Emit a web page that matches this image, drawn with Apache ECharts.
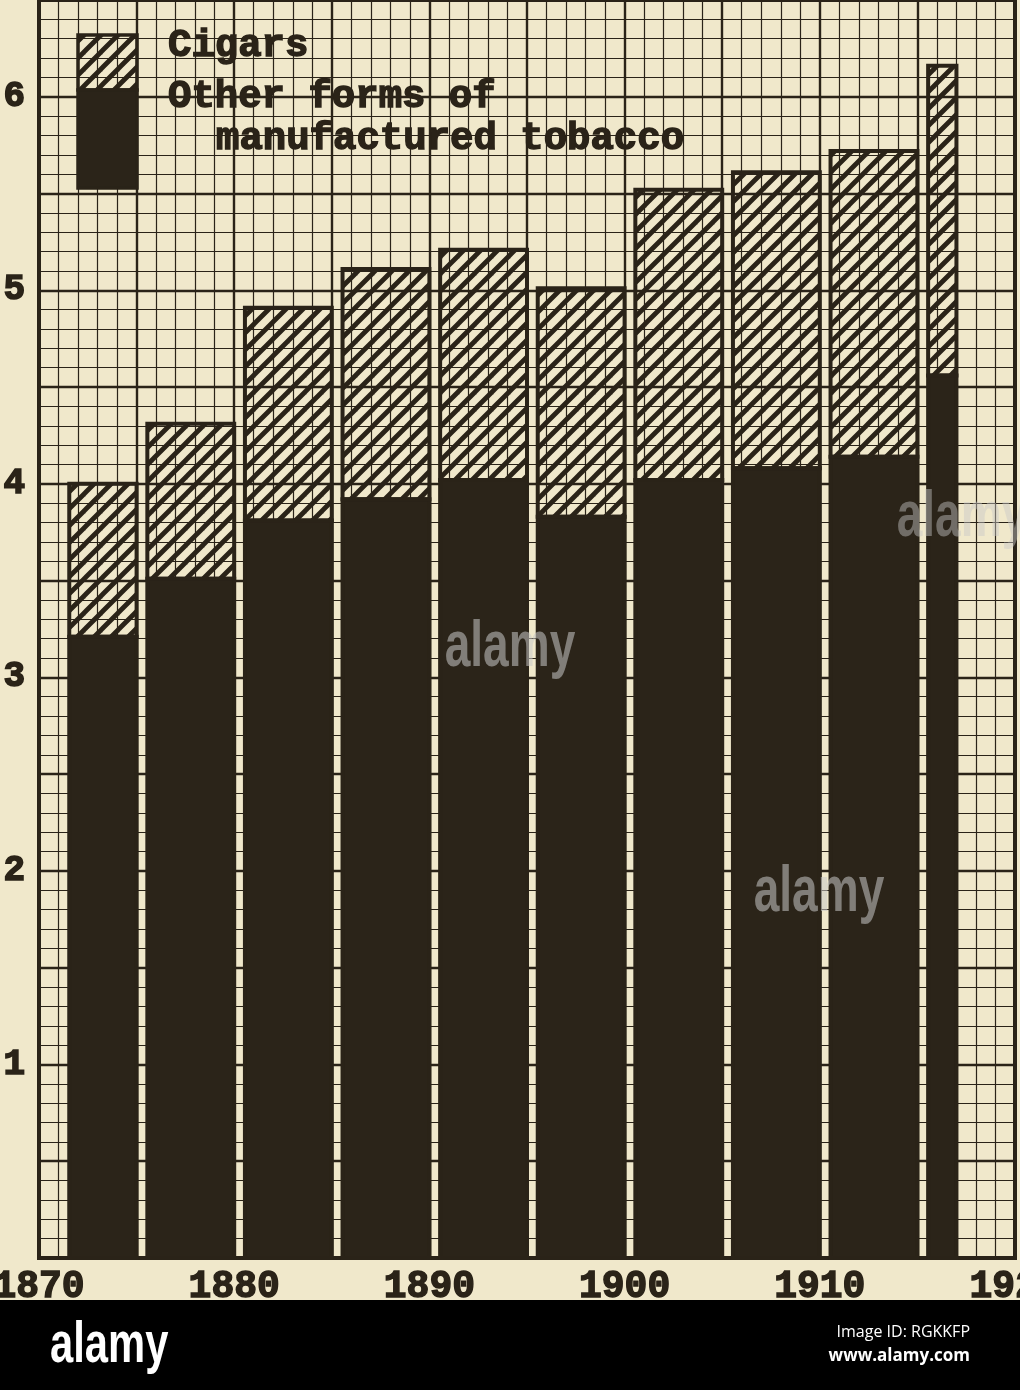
<!DOCTYPE html>
<html>
<head>
<meta charset="utf-8">
<script src="https://cdn.jsdelivr.net/npm/echarts@6/dist/echarts.min.js"></script>
<style>
html,body{margin:0;padding:0;background:#f0e8cb;}
#chart{width:1020px;height:1390px;}
</style>
</head>
<body>
<div id="chart"></div>
<script>
// ---- data ----
const periodStart = [1872, 1876, 1881, 1886, 1891, 1896, 1901, 1906, 1911, 1916];
const periodEnd   = [1875, 1880, 1885, 1890, 1895, 1900, 1905, 1910, 1915, 1917];
const otherForms  = [3.21, 3.51, 3.81, 3.92, 4.02, 3.83, 4.02, 4.08, 4.14, 4.56];
const cigars      = [0.79, 0.80, 1.10, 1.19, 1.19, 1.18, 1.50, 1.53, 1.58, 1.60];
const yTickLabels = ['1', '2', '3', '4', '5', '6'];
const xTickLabels = ['1870', '1880', '1890', '1900', '1910', '1920'];
const legendCigars = 'Cigars';
const legendOther = ['Other forms of', 'manufactured tobacco'];

// ---- styles ----
const PAPER = '#f0e8cb';
const INK = '#2a2318';
const DARK = '#2b2419';
const FONT = '"Liberation Mono", "DejaVu Sans Mono", monospace';
const WM_FONT = '"Liberation Sans Narrow", "Liberation Sans", sans-serif';

function hatchCanvas() {
  const s = 17;
  const c = document.createElement('canvas');
  c.width = s; c.height = s;
  const g = c.getContext('2d');
  g.strokeStyle = INK;
  g.lineWidth = 4.8;
  g.lineCap = 'square';
  [0, s, 2 * s].forEach(function (k) {
    g.beginPath();
    g.moveTo(k - s - 2, s + 2);
    g.lineTo(k + 2, -2);
    g.stroke();
  });
  return c;
}
const HATCH = { image: hatchCanvas(), repeat: 'repeat' };

const GAP = 0.45; // years of blank paper before each bar

const otherData = periodStart.map(function (s, i) {
  return [s, periodEnd[i], 0, otherForms[i]];
});
const cigarData = periodStart.map(function (s, i) {
  return [s, periodEnd[i], otherForms[i], otherForms[i] + cigars[i]];
});

function makeRender(fill) {
  return function (params, api) {
    const x0 = api.value(0) - GAP;
    const x1 = api.value(1);
    const lo = api.value(2);
    const hi = api.value(3);
    const a = api.coord([x0, hi]);
    const b = api.coord([x1, lo]);
    return {
      type: 'rect',
      shape: { x: a[0], y: a[1], width: b[0] - a[0], height: b[1] - a[1] },
      style: { fill: fill, stroke: INK, lineWidth: 4 }
    };
  };
}

function wm(x, y, alpha) {
  return { type: 'text', z: 11, x: x, y: y, scaleX: 0.72,
    style: { text: 'alamy', fill: 'rgba(200,200,200,' + alpha + ')', font: 'bold 64px ' + WM_FONT,
             align: 'center', verticalAlign: 'middle' } };
}

const chart = echarts.init(document.getElementById('chart'), null, { renderer: 'canvas' });

const option = {
  backgroundColor: PAPER,
  animation: false,
  grid: {
    left: 39, right: 5, top: 0, bottom: 132,
    outerBoundsMode: 'none', containLabel: false,
    show: true, borderColor: INK, borderWidth: 4, backgroundColor: 'transparent'
  },
  xAxis: {
    type: 'value', min: 1870, max: 1920, interval: 5,
    axisLine: { show: false }, axisTick: { show: false },
    minorTick: { show: false, splitNumber: 5 },
    splitLine: { show: true, lineStyle: { color: INK, width: 2.4 } },
    minorSplitLine: { show: true, lineStyle: { color: INK, width: 1.2 } },
    axisLabel: {
      margin: 10,
      color: INK, fontFamily: FONT, fontWeight: 'bold', fontSize: 38,
      textBorderColor: INK, textBorderWidth: 1.4,
      showMinLabel: true, showMaxLabel: true,
      formatter: function (v) {
        const s = String(Math.round(v));
        return xTickLabels.indexOf(s) >= 0 && Math.abs(v - Math.round(v)) < 1e-6 ? s : '';
      }
    }
  },
  yAxis: {
    type: 'value', min: 0, max: 6.5, interval: 0.5,
    axisLine: { show: false }, axisTick: { show: false },
    minorTick: { show: false, splitNumber: 5 },
    splitLine: { show: true, lineStyle: { color: INK, width: 2.4 } },
    minorSplitLine: { show: true, lineStyle: { color: INK, width: 1.2 } },
    axisLabel: {
      margin: 14,
      color: INK, fontFamily: FONT, fontWeight: 'bold', fontSize: 36,
      textBorderColor: INK, textBorderWidth: 1.6,
      formatter: function (v) {
        const r = Math.round(v);
        if (Math.abs(v - r) > 1e-6) return '';
        return yTickLabels.indexOf(String(r)) >= 0 ? String(r) : '';
      }
    }
  },
  series: [
    {
      name: 'Other forms of manufactured tobacco',
      type: 'custom',
      renderItem: makeRender(DARK),
      encode: { x: [0, 1], y: [2, 3] },
      data: otherData,
      z: 3
    },
    {
      name: 'Cigars',
      type: 'custom',
      renderItem: makeRender(HATCH),
      encode: { x: [0, 1], y: [2, 3] },
      data: cigarData,
      z: 4
    }
  ],
  graphic: [
    // legend
    { type: 'rect', z: 10, shape: { x: 78, y: 35, width: 59, height: 55 },
      style: { fill: HATCH, stroke: INK, lineWidth: 3.5 } },
    { type: 'rect', z: 10, shape: { x: 78, y: 90, width: 59, height: 98 },
      style: { fill: DARK, stroke: INK, lineWidth: 3.5 } },
    { type: 'text', z: 10, x: 168, y: 46,
      style: { text: legendCigars, fill: INK, font: 'bold 39px ' + FONT,
               verticalAlign: 'middle', stroke: INK, lineWidth: 1.4 } },
    { type: 'text', z: 10, x: 168, y: 97,
      style: { text: legendOther[0], fill: INK, font: 'bold 39px ' + FONT, verticalAlign: 'middle',
               stroke: INK, lineWidth: 1.4 } },
    { type: 'text', z: 10, x: 216, y: 139,
      style: { text: legendOther[1], fill: INK, font: 'bold 39px ' + FONT, verticalAlign: 'middle',
               stroke: INK, lineWidth: 1.4 } },
    // stock-photo watermarks
    wm(510, 648, 0.55),
    wm(819, 893, 0.55),
    wm(962, 518, 0.45),
    // footer band
    { type: 'rect', z: 20, shape: { x: 0, y: 1300, width: 1020, height: 90 }, style: { fill: '#000' } },
    { type: 'text', z: 21, x: 50, y: 1346, scaleX: 0.72,
      style: { text: 'alamy', fill: '#fff', font: 'bold 58px ' + WM_FONT, verticalAlign: 'middle' } },
    { type: 'text', z: 21, x: 970, y: 1332,
      style: { text: 'Image ID: RGKKFP', fill: '#fff', font: '16px "Open Sans", sans-serif',
               align: 'right', verticalAlign: 'middle' } },
    { type: 'text', z: 21, x: 970, y: 1356,
      style: { text: 'www.alamy.com', fill: '#fff', font: 'bold 17px "Open Sans", sans-serif',
               align: 'right', verticalAlign: 'middle' } }
  ]
};
chart.setOption(option);
</script>
</body>
</html>
